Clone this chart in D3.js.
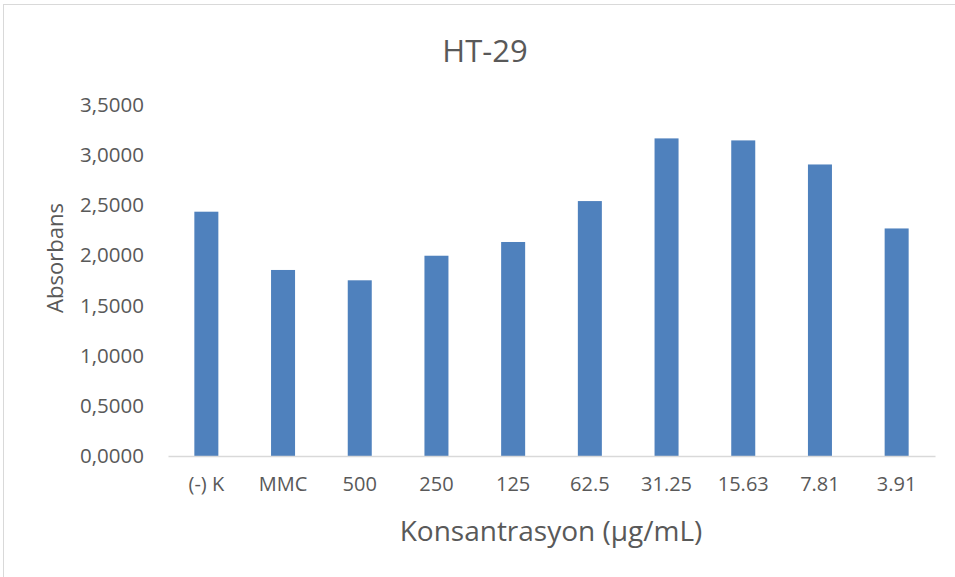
<!DOCTYPE html>
<html>
<head>
<meta charset="utf-8">
<script src="https://cdn.jsdelivr.net/npm/d3@7"></script>
<style>
  html, body { margin: 0; padding: 0; background: #fff; }
  svg { display: block; font-family: "Open Sans", "DejaVu Sans", sans-serif; }
</style>
</head>
<body>
<svg id="chart" width="955" height="577"></svg>
<script>
// Absorbance of HT-29 cells per treatment / concentration
const categories = ["(-) K", "MMC", "500", "250", "125", "62.5", "31.25", "15.63", "7.81", "3.91"];
const absorbance = [2.436, 1.855, 1.752, 1.997, 2.134, 2.542, 3.167, 3.147, 2.907, 2.269];
const yTicks = [0, 0.5, 1.0, 1.5, 2.0, 2.5, 3.0, 3.5];

const chartTitle = "HT-29";
const xTitle = "Konsantrasyon (µg/mL)";
const yTitle = "Absorbans";

const svg = d3.select("#chart");
const W = 955, H = 577;
const plot = { left: 168, right: 935, top: 105, bottom: 456 };
const textColor = "#595959";

// Outer chart frame
svg.append("rect")
  .attr("x", 3.5).attr("y", 4.5)
  .attr("width", W + 10).attr("height", H + 10)
  .attr("fill", "#fff").attr("stroke", "#d9d9d9").attr("stroke-width", 1);

const x = d3.scaleBand()
  .domain(categories)
  .range([plot.left, plot.right])
  .paddingInner(0.687)
  .paddingOuter(0.3435);

const y = d3.scaleLinear()
  .domain([0, 3.5])
  .range([plot.bottom, plot.top]);

const commaLocale = d3.formatLocale({ decimal: ",", thousands: ".", grouping: [3], currency: ["", ""] });
const fmt = commaLocale.format(".4f");

// Bars
svg.append("g")
  .selectAll("rect")
  .data(categories.map((c, i) => ({ c, v: absorbance[i] })))
  .join("rect")
  .attr("x", d => x(d.c))
  .attr("y", d => y(d.v))
  .attr("width", x.bandwidth())
  .attr("height", d => y(0) - y(d.v))
  .attr("fill", "#4f81bd");

// Y axis (labels only)
const yAxis = svg.append("g")
  .attr("transform", `translate(${plot.left - 24},0)`)
  .call(d3.axisLeft(y).tickValues(yTicks).tickFormat(fmt).tickSize(0).tickPadding(0));
yAxis.select(".domain").remove();
yAxis.selectAll("text")
  .attr("fill", textColor)
  .attr("font-size", 20.5)
  .attr("font-family", "\"Open Sans\", sans-serif");

// X axis
const xAxis = svg.append("g")
  .attr("transform", `translate(0,${plot.bottom})`)
  .call(d3.axisBottom(x).tickSize(0).tickPadding(21));
xAxis.select(".domain")
  .attr("stroke", "#d9d9d9").attr("stroke-width", 1.5);
xAxis.selectAll("text")
  .attr("fill", textColor)
  .attr("font-size", 20)
  .attr("font-family", "\"Open Sans\", sans-serif");

// Titles
svg.append("text")
  .attr("x", 485).attr("y", 62)
  .attr("text-anchor", "middle")
  .attr("fill", textColor)
  .attr("font-size", 31)
  .text(chartTitle);

svg.append("text")
  .attr("x", 551).attr("y", 541)
  .attr("text-anchor", "middle")
  .attr("fill", textColor)
  .attr("font-size", 28)
  .text(xTitle);

svg.append("text")
  .attr("transform", "translate(54,258) rotate(-90)")
  .attr("text-anchor", "middle")
  .attr("dominant-baseline", "central")
  .attr("fill", textColor)
  .attr("font-size", 22)
  .text(yTitle);
</script>
</body>
</html>
